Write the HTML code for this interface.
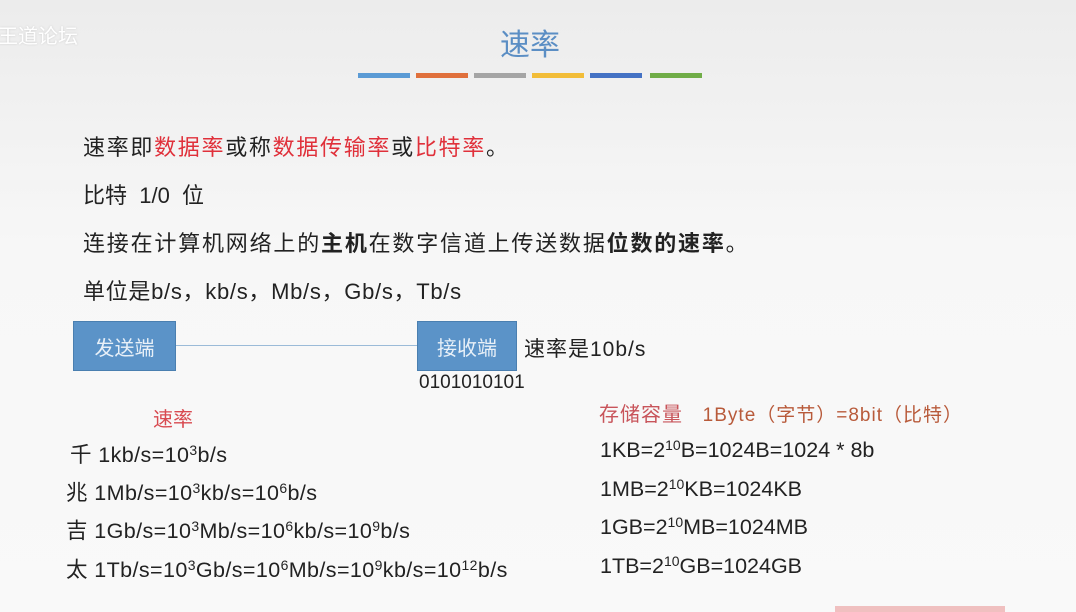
<!DOCTYPE html>
<html><head><meta charset="utf-8"><style>
body{margin:0;width:1076px;height:612px;overflow:hidden;background:linear-gradient(#ececec,#f7f7f7 40%,#f9f9f9);font-family:"Liberation Sans","Noto Sans CJK SC",sans-serif;color:#222;position:relative}
.a{position:absolute;white-space:nowrap}
.r{color:#e0303a}
sup{font-size:65%;vertical-align:0;position:relative;top:-0.5em}
.box{position:absolute;background:#5b93c8;border:1px solid #4a7fb0;color:#e8f0f8;font-size:20px;display:flex;align-items:center;justify-content:center}
.bar{position:absolute;top:73px;height:5px;width:52px}
</style></head><body>
<div class="a" style="left:-2px;top:20px;font-size:20px;color:#fff;text-shadow:0 0 2px #ccc">王道论坛</div>
<div class="a" style="left:500px;top:20px;font-size:30px;color:#5b8ec4">速率</div>
<div class="bar" style="left:358px;background:#5b9bd5"></div>
<div class="bar" style="left:416px;background:#e0703c"></div>
<div class="bar" style="left:474px;background:#a5a5a5"></div>
<div class="bar" style="left:532px;background:#f2bd38"></div>
<div class="bar" style="left:590px;background:#4472c4"></div>
<div class="bar" style="left:650px;background:#70ad47"></div>
<div class="a" style="left:83px;top:130px;font-size:22px;letter-spacing:1.7px">速率即<span class="r">数据率</span>或称<span class="r">数据传输率</span>或<span class="r">比特率</span>。</div>
<div class="a" style="left:83px;top:178px;font-size:22px">比特&nbsp;&nbsp;1/0&nbsp;&nbsp;位</div>
<div class="a" style="left:83px;top:226px;font-size:22px;letter-spacing:1.8px">连接在计算机网络上的<b>主机</b>在数字信道上传送数据<b>位数的速率</b>。</div>
<div class="a" style="left:83px;top:274px;font-size:22px;letter-spacing:0.7px">单位是b/s，kb/s，Mb/s，Gb/s，Tb/s</div>
<div class="a" style="left:175px;top:345px;width:243px;height:1px;background:#9bbbd8"></div>
<div class="box" style="left:73px;top:321px;width:101px;height:48px">发送端</div>
<div class="box" style="left:417px;top:321px;width:98px;height:48px">接收端</div>
<div class="a" style="left:524px;top:333px;font-size:21px;letter-spacing:1px">速率是10b/s</div>
<div class="a" style="left:419px;top:372px;font-size:19px">0101010101</div>
<div class="a r" style="left:153px;top:403px;font-size:20px;color:#d84a50">速率</div>
<div class="a" style="left:70px;top:438px;font-size:21.5px;letter-spacing:0.4px">千 1kb/s=10<sup>3</sup>b/s</div>
<div class="a" style="left:66px;top:476px;font-size:21.5px;letter-spacing:0.4px">兆 1Mb/s=10<sup>3</sup>kb/s=10<sup>6</sup>b/s</div>
<div class="a" style="left:66px;top:514px;font-size:21.5px;letter-spacing:0.4px">吉 1Gb/s=10<sup>3</sup>Mb/s=10<sup>6</sup>kb/s=10<sup>9</sup>b/s</div>
<div class="a" style="left:66px;top:553px;font-size:21.5px;letter-spacing:0.4px">太 1Tb/s=10<sup>3</sup>Gb/s=10<sup>6</sup>Mb/s=10<sup>9</sup>kb/s=10<sup>12</sup>b/s</div>
<div class="a" style="left:599px;top:398px;font-size:20px;letter-spacing:1px"><span style="color:#c8545a">存储容量</span>&nbsp;&nbsp;&nbsp;<span style="color:#b85a3a;font-size:19px">1Byte（字节）=8bit（比特）</span></div>
<div class="a" style="left:600px;top:438px;font-size:21.5px">1KB=2<sup>10</sup>B=1024B=1024 * 8b</div>
<div class="a" style="left:600px;top:477px;font-size:21.5px">1MB=2<sup>10</sup>KB=1024KB</div>
<div class="a" style="left:600px;top:515px;font-size:21.5px">1GB=2<sup>10</sup>MB=1024MB</div>
<div class="a" style="left:600px;top:554px;font-size:21.5px">1TB=2<sup>10</sup>GB=1024GB</div>
<div class="a" style="left:835px;top:606px;width:170px;height:6px;background:#f0c0c0"></div>
</body></html>
